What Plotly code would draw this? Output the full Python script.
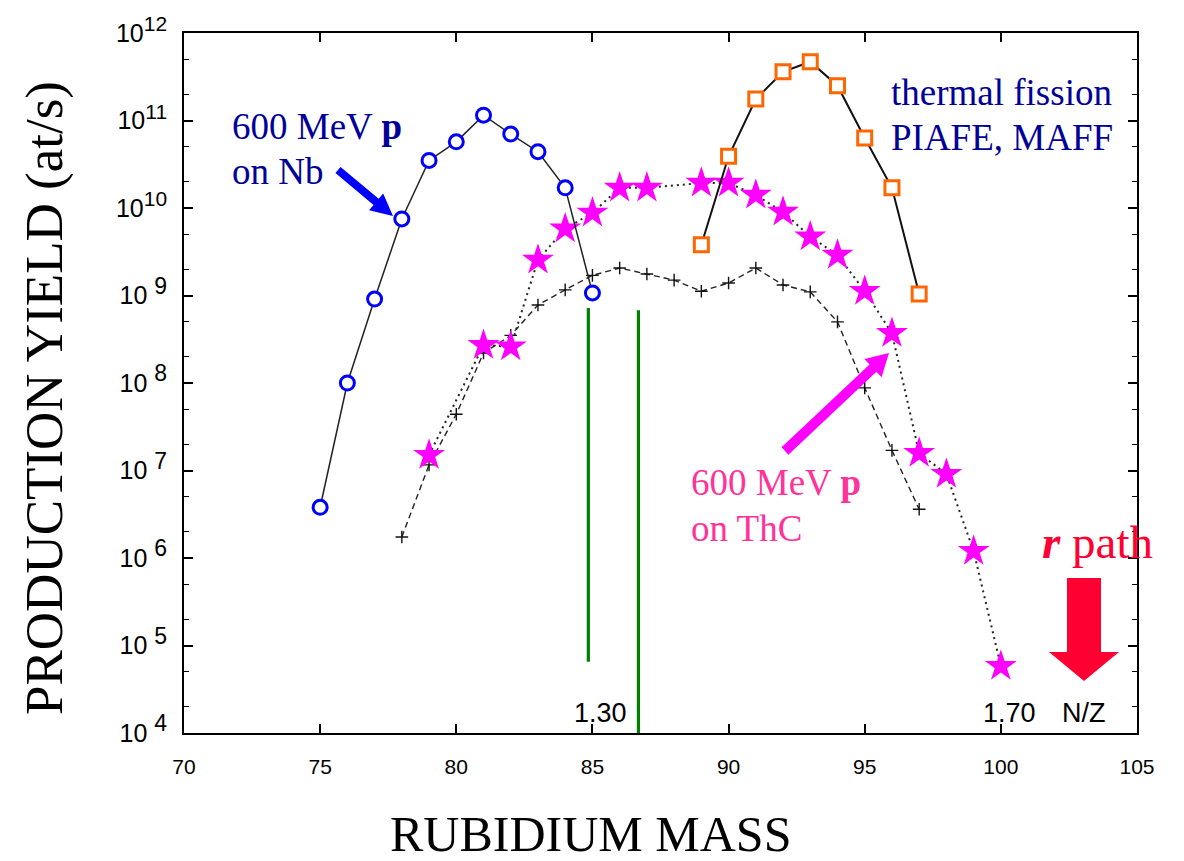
import plotly.graph_objects as go

# ---------------- data ----------------
mass_nb = [75, 76, 77, 78, 79, 80, 81, 82, 83, 84, 85]
yield_nb = [3.8e6, 1.0e8, 9.1e8, 7.5e9, 3.5e10, 5.7e10, 1.15e11, 7.0e10, 4.4e10, 1.7e10, 1.07e9]

mass_fis = [89, 90, 91, 92, 93, 94, 95, 96, 97]
yield_fis = [3.8e9, 3.9e10, 1.76e11, 3.6e11, 4.7e11, 2.5e11, 6.3e10, 1.7e10, 1.04e9]

mass_thc = [79, 81, 82, 83, 84, 85, 86, 87, 89, 90, 91, 92, 93, 94, 95, 96, 97, 98, 99, 100]
yield_thc = [1.5e7, 2.7e8, 2.6e8, 2.55e9, 5.8e9, 8.8e9, 1.7e10, 1.7e10, 1.93e10, 1.93e10,
             1.41e10, 9.0e9, 4.7e9, 2.9e9, 1.12e9, 3.7e8, 1.58e7, 9.1e6, 1.2e6, 5.8e4]

mass_old = [78, 79, 80, 81, 82, 83, 84, 85, 86, 87, 88, 89, 90, 91, 92, 93, 94, 95, 96, 97]
yield_old = [1.74e6, 1.16e7, 4.4e7, 2.2e8, 3.5e8, 7.8e8, 1.16e9, 1.7e9, 2.06e9, 1.76e9,
             1.5e9, 1.12e9, 1.39e9, 2.06e9, 1.32e9, 1.1e9, 5.0e8, 8.8e7, 1.7e7, 3.6e6]

# N/Z marker lines (green)
nz_line1_x = [84.85, 84.85]
nz_line1_y = [7.2e8, 6.5e4]
nz_line2_x = [86.69, 86.69]
nz_line2_y = [6.8e8, 1.0e4]

x_ticks = [70, 75, 80, 85, 90, 95, 100, 105]
y_exps = [4, 5, 6, 7, 8, 9, 10, 11, 12]

# ---------------- geometry ----------------
W, H = 1184, 861
L, R, T, B = 184, 1137, 33, 733
PW, PH = R - L, B - T


def px(xp, yp):
    return (xp - L) / PW, (B - yp) / PH


def arrow_path(x0, y0, x1, y1, sw, hw, hl):
    dx, dy = x1 - x0, y1 - y0
    d = (dx * dx + dy * dy) ** 0.5
    ux, uy = dx / d, dy / d
    nx, ny = -uy, ux
    bx, by = x1 - ux * hl, y1 - uy * hl
    pts = [
        (x0 + nx * sw / 2, y0 + ny * sw / 2),
        (bx + nx * sw / 2, by + ny * sw / 2),
        (bx + nx * hw / 2, by + ny * hw / 2),
        (x1, y1),
        (bx - nx * hw / 2, by - ny * hw / 2),
        (bx - nx * sw / 2, by - ny * sw / 2),
        (x0 - nx * sw / 2, y0 - ny * sw / 2),
    ]
    s = ""
    for i, (a, b) in enumerate(pts):
        pa, pb = px(a, b)
        s += ("M" if i == 0 else "L") + f"{pa:.5f},{pb:.5f} "
    return s + "Z"


fig = go.Figure()

# crosses, dashed
fig.add_trace(go.Scatter(
    x=mass_old, y=yield_old, mode="lines+markers",
    line=dict(color="#222222", width=1.4, dash="6px,4px"),
    marker=dict(symbol="cross-thin", size=9, line=dict(color="#111111", width=1.4)),
    hoverinfo="skip"))

# green lines
for gx, gy in [(nz_line1_x, nz_line1_y), (nz_line2_x, nz_line2_y)]:
    fig.add_trace(go.Scatter(x=gx, y=gy, mode="lines",
                             line=dict(color="#008000", width=3.2), hoverinfo="skip"))

# ThC stars, dotted
fig.add_trace(go.Scatter(
    x=mass_thc, y=yield_thc, mode="lines+markers",
    line=dict(color="#222222", width=2, dash="2px,4px"),
    marker=dict(symbol="star", size=24, color="#ff00ff", line=dict(color="#ff00ff", width=0)),
    hoverinfo="skip"))

# Nb circles
fig.add_trace(go.Scatter(
    x=mass_nb, y=yield_nb, mode="lines+markers",
    line=dict(color="#222222", width=1.5),
    marker=dict(symbol="circle", size=14, color="white", line=dict(color="#0000ff", width=3)),
    hoverinfo="skip"))

# thermal fission squares
fig.add_trace(go.Scatter(
    x=mass_fis, y=yield_fis, mode="lines+markers",
    line=dict(color="#111111", width=2),
    marker=dict(symbol="square", size=14, color="white", line=dict(color="#ff6600", width=3)),
    hoverinfo="skip"))

serif = "Liberation Serif"
sans = "Liberation Sans"

ann = []


def text(t, xp, yp, size, color, font=serif, xanchor="left"):
    xa, ya = px(xp, yp)
    ann.append(dict(text=t, x=xa, y=ya, xref="paper", yref="paper", showarrow=False,
                    xanchor=xanchor, yanchor="middle",
                    font=dict(family=font, size=size, color=color)))


navy = "#000099"
pink = "#ff3399"
text("600 MeV <b>p</b>", 230, 126, 37, navy)
text("on Nb", 230, 171, 37, navy)
text("thermal fission", 889, 92, 37, navy)
text("PIAFE, MAFF", 889, 137, 37, navy)
text("600 MeV <b>p</b>", 689, 482, 37, pink)
text("on ThC", 689, 528, 37, pink)
text("<b><i>r</i></b> path", 1040, 542, 47, "#ff0033")
text("1.30", 572, 713, 27, "black", font=sans)
text("1.70", 981, 713, 27, "black", font=sans)
text("N/Z", 1060, 713, 27, "black", font=sans)
text("RUBIDIUM MASS", 590, 834, 50, "black", font=serif, xanchor="center")
xa, ya = px(45, 398)
ann.append(dict(text="PRODUCTION YIELD (at/s)", x=xa, y=ya, xref="paper", yref="paper",
                showarrow=False, textangle=-90, xanchor="center", yanchor="middle",
                font=dict(family=serif, size=53, color="black")))

shapes = [
    dict(type="path", xref="paper", yref="paper", line=dict(width=0), fillcolor="#0000ff",
         path=arrow_path(338, 170, 393, 216, 8, 22, 22)),
    dict(type="path", xref="paper", yref="paper", line=dict(width=0), fillcolor="#ff00ff",
         path=arrow_path(785, 451, 889, 353, 10, 25, 22)),
    dict(type="path", xref="paper", yref="paper", line=dict(width=0), fillcolor="#ff0033",
         path=arrow_path(1084, 578, 1084, 681, 34, 70, 29)),
]

y_tickvals = [10.0 ** e for e in y_exps]
y_ticktext = [("10<sup><span style='font-size:21px'>%d</span></sup>" % e) if e >= 10
              else ("10 <sup><span style='font-size:23px'>%d</span></sup>" % e) for e in y_exps]
y_minor = []
for e in y_exps[:-1]:
    y_minor += [2 * 10.0 ** e, 5 * 10.0 ** e]

fig.update_layout(
    width=W, height=H, autosize=False,
    margin=dict(l=L, r=W - R, t=T, b=H - B),
    paper_bgcolor="white", plot_bgcolor="white",
    showlegend=False,
    annotations=ann, shapes=shapes,
    xaxis=dict(range=[70, 105], tickvals=x_ticks, ticktext=[str(v) for v in x_ticks],
               ticks="inside", ticklen=9, tickwidth=1.5, tickcolor="black",
               showline=True, linecolor="black", linewidth=1.8, mirror="ticks",
               showgrid=False, zeroline=False, ticklabelstandoff=14,
               tickfont=dict(family=sans, size=21, color="black")),
    yaxis=dict(type="log", range=[4, 12], tickvals=y_tickvals, ticktext=y_ticktext,
               ticks="inside", ticklen=9, tickwidth=1.5, tickcolor="black",
               minor=dict(tickvals=y_minor, ticks="inside", ticklen=5, tickwidth=1.2,
                          tickcolor="black", showgrid=False),
               showline=True, linecolor="black", linewidth=1.8, mirror="ticks",
               showgrid=False, zeroline=False, ticklabelstandoff=10,
               tickfont=dict(family=sans, size=25, color="black")),
)

fig.write_html("out.html")
